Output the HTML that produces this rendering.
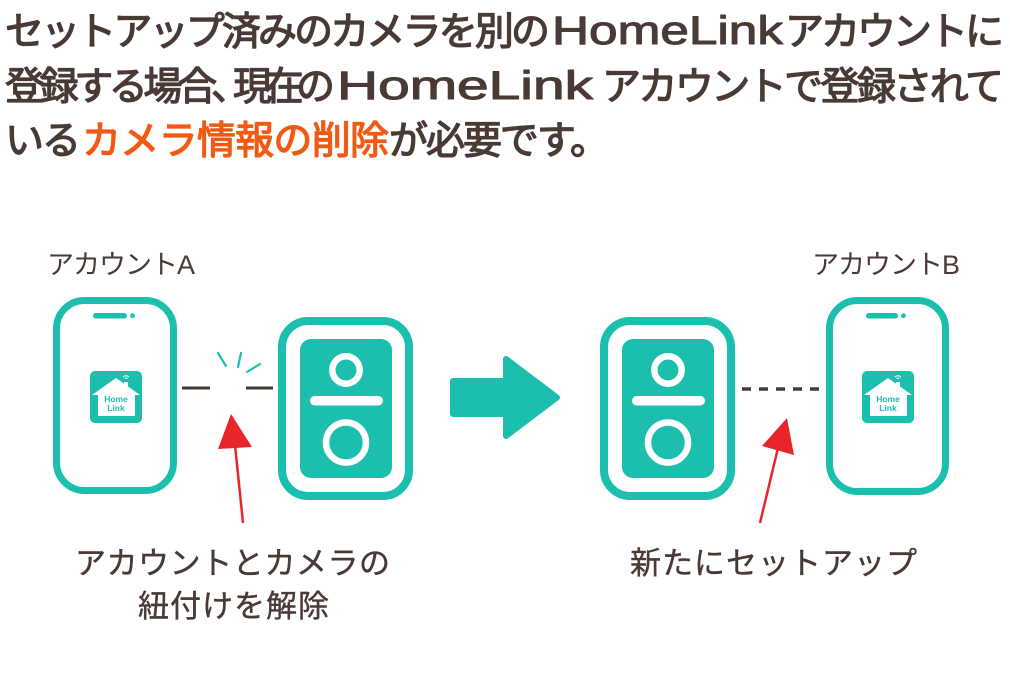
<!DOCTYPE html>
<html><head><meta charset="utf-8"><style>
html,body{margin:0;padding:0;background:#fff;}
svg{display:block;}
text{font-family:"Liberation Sans","Noto Sans CJK JP",sans-serif;}
.t{font-size:39px;font-weight:400;fill:#4a3a35;stroke:#4a3a35;stroke-width:1.3px;stroke-linejoin:round;}
.o{fill:#f25a14;stroke:#f25a14;}
.lt{font-size:40px;font-weight:400;fill:#4a3a35;stroke:#4a3a35;stroke-width:1px;stroke-linejoin:round;}
.lb{font-size:27px;fill:#4a3a35;}
.bl{font-size:31px;fill:#4a3a35;stroke:#4a3a35;stroke-width:0.4px;}
</style></head><body>
<svg width="1010" height="691" viewBox="0 0 1010 691" xmlns="http://www.w3.org/2000/svg">
<rect width="1010" height="691" fill="#fff"/>

<!-- Title -->
<text class="t" x="5" y="45" textLength="545" lengthAdjust="spacing">セットアップ済みのカメラを別の</text>
<text class="lt" x="552" y="44" textLength="231" lengthAdjust="spacingAndGlyphs">HomeLink</text>
<text class="t" x="785" y="45" textLength="219" lengthAdjust="spacing">アカウントに</text>

<text class="t" x="5" y="100" textLength="212" lengthAdjust="spacing">登録する場合</text>
<text class="t" x="211" y="100">、</text>
<text class="t" x="233" y="100" textLength="102" lengthAdjust="spacing">現在の</text>
<text class="lt" x="337" y="99" textLength="256" lengthAdjust="spacingAndGlyphs">HomeLink</text>
<text class="t" x="602" y="100" textLength="402" lengthAdjust="spacing">アカウントで登録されて</text>

<text class="t" x="5" y="154" textLength="76" lengthAdjust="spacing">いる</text>
<text class="t o" x="82" y="154" textLength="307" lengthAdjust="spacing">カメラ情報の削除</text>
<text class="t" x="389" y="154" textLength="220" lengthAdjust="spacing">が必要です。</text>

<!-- Labels -->
<text class="lb" x="47" y="274" textLength="148" lengthAdjust="spacing">アカウントA</text>
<text class="lb" x="812" y="274" textLength="148" lengthAdjust="spacing">アカウントB</text>

<text class="bl" x="75" y="574" textLength="315" lengthAdjust="spacing">アカウントとカメラの</text>
<text class="bl" x="138" y="617" textLength="191" lengthAdjust="spacing">紐付けを解除</text>
<text class="bl" x="630" y="574" textLength="287" lengthAdjust="spacing">新たにセットアップ</text>

<!-- Left phone -->
<rect x="56.5" y="300.5" width="117" height="190" rx="28" fill="#fff" stroke="#1cbfae" stroke-width="7"/>
<rect x="93" y="313" width="34" height="5.5" rx="2.75" fill="#1cbfae"/>
<circle cx="132.5" cy="315.7" r="2.4" fill="#1cbfae"/>
<g transform="translate(90,371)">
  <rect width="52" height="52" rx="5" fill="#1cbfae"/>
  <path d="M26,7 L50,24 L45,24 L45,45 L8,45 L8,24 L2,24 Z" fill="#fff"/>
  <rect x="34" y="11" width="4" height="9" fill="#fff"/>
  <path d="M33,6 Q36,3.5 39,6 M34.5,7.5 Q36,6.5 37.5,7.5" stroke="#fff" stroke-width="1" fill="none"/>
  <text x="26" y="31" font-size="8.5" font-weight="700" fill="#1cbfae" text-anchor="middle">Home</text>
  <text x="26" y="40" font-size="8.5" font-weight="700" fill="#1cbfae" text-anchor="middle">Link</text>
</g>

<!-- Left connector -->
<line x1="182" y1="388" x2="210" y2="388" stroke="#4a3a35" stroke-width="3"/>
<line x1="246" y1="388" x2="273" y2="388" stroke="#4a3a35" stroke-width="3"/>
<line x1="218" y1="353" x2="226" y2="366" stroke="#1cbfae" stroke-width="2.2" stroke-linecap="round"/>
<line x1="241" y1="353" x2="238" y2="367" stroke="#1cbfae" stroke-width="2.2" stroke-linecap="round"/>
<line x1="260" y1="364" x2="247" y2="372" stroke="#1cbfae" stroke-width="2.2" stroke-linecap="round"/>

<!-- Left camera -->
<rect x="282" y="321" width="127" height="175" rx="26" fill="#fff" stroke="#1cbfae" stroke-width="8"/>
<rect x="300" y="339" width="92" height="139" rx="11" fill="#1cbfae"/>
<circle cx="346" cy="370" r="13.7" fill="none" stroke="#fff" stroke-width="6.5"/>
<rect x="310" y="396" width="73" height="9.5" rx="4.75" fill="#fff"/>
<circle cx="346" cy="442.5" r="20" fill="none" stroke="#fff" stroke-width="6.5"/>

<!-- Left red arrow -->
<line x1="243" y1="523" x2="235" y2="445" stroke="#e8252b" stroke-width="2.5"/>
<polygon points="231,414 218,449 252,447" fill="#e8252b"/>

<!-- Big arrow -->
<path d="M453,381 L506,381 L506,359 L557,397.5 L506,436 L506,414 L453,414 Z" fill="#1cbfae" stroke="#1cbfae" stroke-width="6" stroke-linejoin="round"/>

<!-- Right camera -->
<rect x="604" y="321" width="127" height="175" rx="26" fill="#fff" stroke="#1cbfae" stroke-width="8"/>
<rect x="622" y="339" width="92" height="139" rx="11" fill="#1cbfae"/>
<circle cx="668" cy="370" r="13.7" fill="none" stroke="#fff" stroke-width="6.5"/>
<rect x="632" y="396" width="73" height="9.5" rx="4.75" fill="#fff"/>
<circle cx="668" cy="442.5" r="20" fill="none" stroke="#fff" stroke-width="6.5"/>

<!-- Dashed connector -->
<line x1="742" y1="389" x2="822" y2="389" stroke="#4a3a35" stroke-width="3.5" stroke-dasharray="9 8"/>

<!-- Right phone -->
<rect x="829.5" y="300.5" width="116" height="191" rx="28" fill="#fff" stroke="#1cbfae" stroke-width="7"/>
<rect x="866" y="313" width="32" height="5.5" rx="2.75" fill="#1cbfae"/>
<circle cx="903.5" cy="315.7" r="2.4" fill="#1cbfae"/>
<g transform="translate(862,371)">
  <rect width="52" height="52" rx="5" fill="#1cbfae"/>
  <path d="M26,7 L50,24 L45,24 L45,45 L8,45 L8,24 L2,24 Z" fill="#fff"/>
  <rect x="34" y="11" width="4" height="9" fill="#fff"/>
  <path d="M33,6 Q36,3.5 39,6 M34.5,7.5 Q36,6.5 37.5,7.5" stroke="#fff" stroke-width="1" fill="none"/>
  <text x="26" y="31" font-size="8.5" font-weight="700" fill="#1cbfae" text-anchor="middle">Home</text>
  <text x="26" y="40" font-size="8.5" font-weight="700" fill="#1cbfae" text-anchor="middle">Link</text>
</g>

<!-- Right red arrow -->
<line x1="760" y1="523" x2="778" y2="448" stroke="#e8252b" stroke-width="2.5"/>
<polygon points="787,418 762,446 794,455" fill="#e8252b"/>
</svg>
</body></html>
